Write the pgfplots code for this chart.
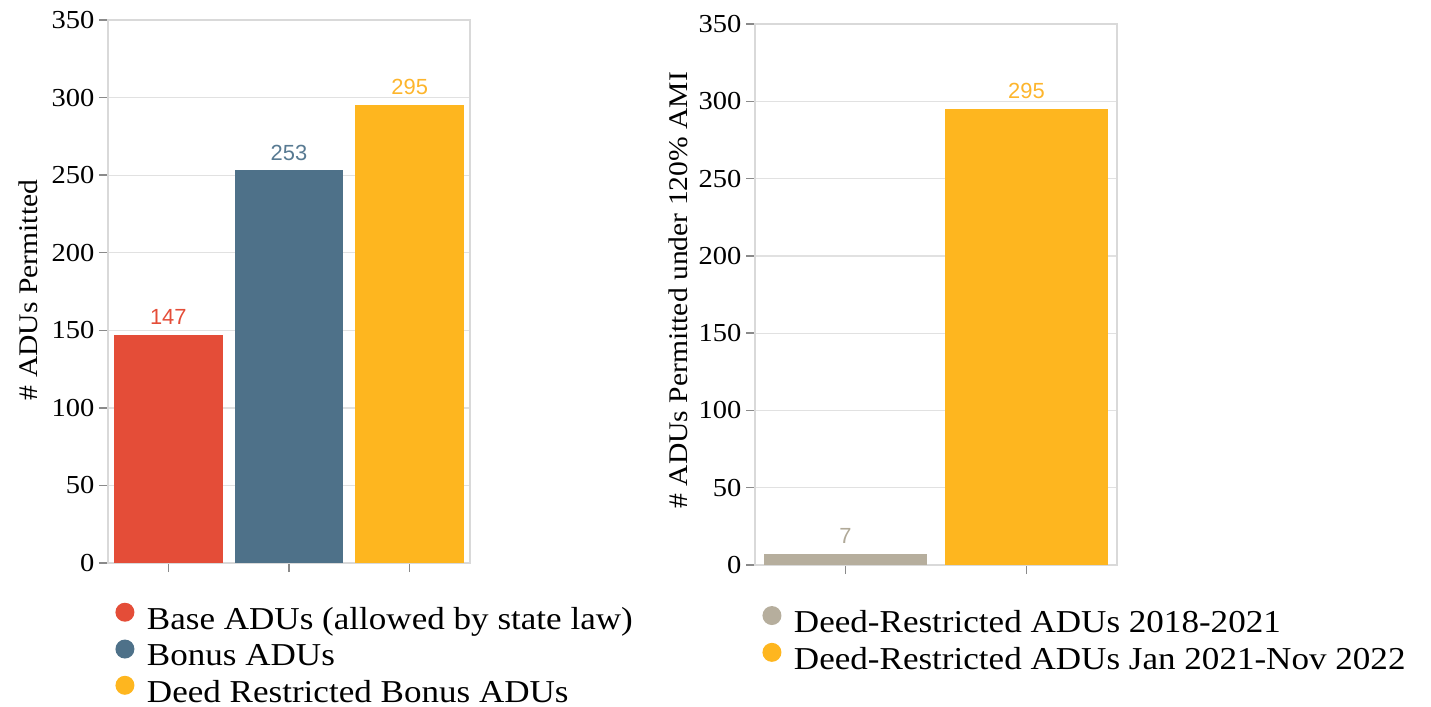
\documentclass[border=0pt]{standalone}
\usepackage{fontspec}
\setmainfont[FakeStretch=1.1]{Liberation Serif}
\newfontfamily\valfont{Liberation Sans}
\usepackage{pgfplots}
\pgfplotsset{compat=1.18}

\definecolor{cRed}{HTML}{E44D38}
\definecolor{cBlue}{HTML}{4E7189}
\definecolor{cBlueTxt}{HTML}{587A92}
\definecolor{cYellow}{HTML}{FEB61F}
\definecolor{cYellowTxt}{HTML}{FDB52C}
\definecolor{cGrey}{HTML}{B6AE9D}
\definecolor{cGreyTxt}{HTML}{B0A998}
\definecolor{gridc}{HTML}{E1E1E1}
\definecolor{framec}{HTML}{D9D9D9}
\definecolor{tickc}{HTML}{8A8A8A}

\pgfplotsset{
  adustyle/.style={
    scale only axis,
    ybar, bar shift=0pt, bar width=0.9,
    ymin=0, ymax=350,
    ytick={0,50,...,350},
    ymajorgrids,
    major grid style={draw=gridc, line width=1.3bp},
    axis line style={draw=framec, line width=1.5bp},
    tick style={draw=tickc, line width=1.5bp},
    major tick length=9bp,
    tick align=outside,
    xtick pos=bottom, ytick pos=left,
    xticklabels={},
    /pgf/number format/assume math mode=true,
    yticklabel style={font=\fontsize{26}{30}\selectfont, xshift=-1bp},
    ylabel style={font=\fontsize{27}{32}\selectfont, anchor=center},
    every node near coord/.append style={font=\valfont\fontsize{22}{25}\selectfont, inner sep=0pt, anchor=south, yshift=10bp},
    nodes near coords={\pgfmathprintnumber[assume math mode=true]{\pgfplotspointmeta}},
    legend cell align=left,
    % round swatch, with room after it before the entry text
    legend image code/.code={\fill[##1, draw=none] (0bp,6.5bp) circle (9.5bp);
                             \path (20bp,6.5bp);},
    legend style={draw=none, fill=none, font=\fontsize{32}{36}\selectfont,
      anchor=north west, inner sep=0pt, row sep=7bp},
  }
}

\begin{document}
\begin{tikzpicture}
\path[use as bounding box] (0bp,0bp) rectangle (1431bp,-707bp);

% Left panel: all ADUs permitted
\begin{axis}[adustyle,
  at={(108bp,-563bp)}, anchor=south west,
  width=362bp, height=543bp,
  xmin=-0.5, xmax=2.5, xtick={0,1,2},
  ylabel={\# ADUs Permitted},
  ylabel style={at={(axis description cs:-0.221,0.503)}},
  legend style={at={(axis description cs:0.02,-0.0728)}},
]
\addplot[fill=cRed, draw=none, every node near coord/.append style={text=cRed}] coordinates {(0,147)};
\addlegendentry{Base ADUs (allowed by state law)}
\addplot[fill=cBlue, draw=none, every node near coord/.append style={text=cBlueTxt}] coordinates {(1,253)};
\addlegendentry{Bonus ADUs}
\addplot[fill=cYellow, draw=none, every node near coord/.append style={text=cYellowTxt}] coordinates {(2,295)};
\addlegendentry{Deed Restricted Bonus ADUs}
\end{axis}

% Right panel: deed-restricted ADUs under 120% AMI
\begin{axis}[adustyle,
  at={(755bp,-565bp)}, anchor=south west,
  width=362bp, height=541bp,
  xmin=-0.5, xmax=1.5, xtick={0,1},
  ylabel={\# ADUs Permitted under 120\% AMI},
  ylabel style={at={(axis description cs:-0.213,0.508)}},
  legend style={at={(axis description cs:0.02,-0.0755)}},
]
\addplot[fill=cGrey, draw=none, every node near coord/.append style={text=cGreyTxt}] coordinates {(0,7)};
\addlegendentry{Deed-Restricted ADUs 2018-2021}
\addplot[fill=cYellow, draw=none, every node near coord/.append style={text=cYellowTxt}] coordinates {(1,295)};
\addlegendentry{Deed-Restricted ADUs Jan 2021-Nov 2022}
\end{axis}
\end{tikzpicture}
\end{document}
